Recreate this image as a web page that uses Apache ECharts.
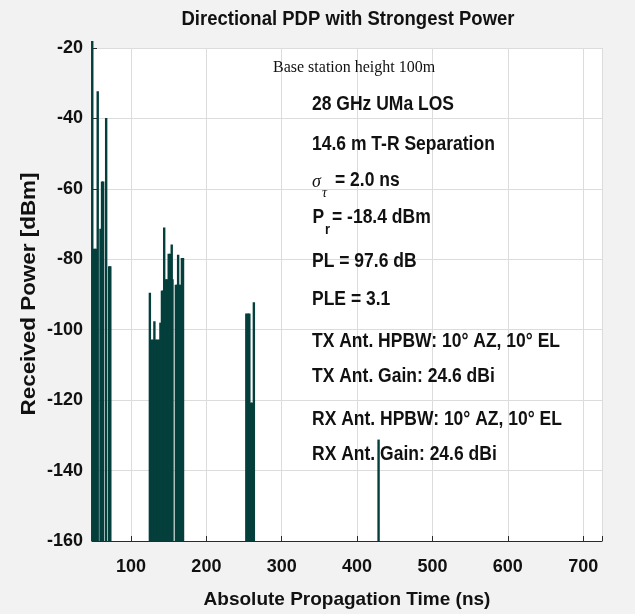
<!DOCTYPE html>
<html><head><meta charset="utf-8">
<script src="https://cdn.jsdelivr.net/npm/echarts@6/dist/echarts.min.js"></script>
<style>html,body{margin:0;padding:0;background:#f2f2f2}#c{width:635px;height:614px}</style>
</head><body><div id="c"></div>
<script>
// Multipath component delays (ns) and received powers (dBm)
const delays = [
  48.5, 50, 52, 54, 55.8, 59.5, 61.5, 63, 67, 71, 72.5,
  125, 127, 129, 131, 133, 135, 137, 139, 141, 142.5, 144, 146, 148, 150, 152, 154, 155,
  159.5, 161, 162.5, 164, 165.5, 167.5, 169,
  253, 255, 257, 259, 261, 263,
  428.5
];
const powers = [
  -18, -77, -77, -77, -32.3, -71.3, -57.9, -57.9, -39.9, -82, -82,
  -89.5, -102.8, -102.8, -97.6, -102.8, -102.8, -102.8, -98, -88.9, -88.9, -71, -85.7, -85.7, -78.4, -78.4, -75.8, -85.7,
  -87.2, -87.2, -78.7, -87.2, -87.2, -79.6, -79.6,
  -95.4, -95.4, -95.4, -120.7, -120.7, -92.2,
  -131.2
];
const titleText = 'Directional PDP with Strongest Power';
const xName = 'Absolute Propagation Time (ns)';
const yName = 'Received Power [dBm]';
const infoLines = [
  '28 GHz UMa LOS',
  '14.6 m T-R Separation',
  null,
  null,
  'PL = 97.6 dB',
  'PLE = 3.1',
  'TX Ant. HPBW: 10\u00b0 AZ, 10\u00b0 EL',
  'TX Ant. Gain: 24.6 dBi',
  'RX Ant. HPBW: 10\u00b0 AZ, 10\u00b0 EL',
  'RX Ant. Gain: 24.6 dBi'
];
const infoY = [105, 145, 181, 218, 262, 300, 342, 377, 420, 455];

const SANS = '"Liberation Sans", Arial, sans-serif';
const SERIF = '"Liberation Serif", "Times New Roman", serif';
const txt = (text, x, y, font, extra, align) => Object.assign({
  type: 'text', x: x, y: y, z: 100, scaleY: 1.12,
  style: { text: text, font: font, fill: '#111', align: align || 'left', verticalAlign: 'middle',
           textAlign: align || 'left', textVerticalAlign: 'middle' }
}, extra || {});
const BOLD = 'bold 17.5px ' + SANS;

const graphics = [
  txt(titleText, 348, 19, 'bold 18.5px ' + SANS, { scaleY: 1.1 }, 'center'),
  txt(yName, 30, 294, 'bold 19.5px ' + SANS, { rotation: Math.PI / 2, scaleX: 1.15, scaleY: 1 }, 'center'),
  txt('Base station height 100m', 273, 68, '16px ' + SERIF, { scaleY: 1.05 }),
  txt('\u03c3', 312, 182, 'italic 18px ' + SERIF, { scaleY: 1 }),
  txt('\u03c4', 322, 193, 'italic 14px ' + SERIF, { scaleY: 1 }),
  txt('= 2.0 ns', 335, 181, BOLD),
  txt('P', 312.5, 218, BOLD),
  txt('r', 325, 230, 'bold 13px ' + SANS),
  txt('= -18.4 dBm', 332, 218, BOLD)
];
infoLines.forEach((t, i) => { if (t) graphics.push(txt(t, 312, infoY[i], BOLD)); });

const chart = echarts.init(document.getElementById('c'), null, { renderer: 'canvas' });
chart.setOption({
  backgroundColor: '#f2f2f2',
  animation: false,
  grid: { left: 92, right: 33, top: 48, bottom: 72, show: true, backgroundColor: '#ffffff', borderWidth: 0 },
  xAxis: {
    type: 'value', min: 48.2, max: 725,
    name: xName, nameLocation: 'middle', nameGap: 49,
    nameTextStyle: { fontFamily: SANS, fontSize: 19, fontWeight: 'bold', color: '#111' },
    axisLine: { show: true, lineStyle: { color: '#2a2a2a', width: 1.2 } },
    axisTick: { show: true, inside: true, length: 5, lineStyle: { color: '#2a2a2a' } },
    axisLabel: {
      margin: 17, fontFamily: SANS, fontSize: 18, fontWeight: 'bold', color: '#111',
      formatter: v => (Math.abs(v % 100) < 1e-6 ? String(v) : '')
    },
    splitLine: { show: true, lineStyle: { color: '#dcdcdc', width: 1 } }
  },
  yAxis: {
    type: 'value', min: -160, max: -20, interval: 20, startValue: -160,
    axisLine: { show: true, onZero: false, lineStyle: { color: '#2a2a2a', width: 1.2 } },
    axisTick: { show: true, inside: true, length: 5, lineStyle: { color: '#2a2a2a' } },
    axisLabel: { margin: 9, fontFamily: SANS, fontSize: 18, fontWeight: 'bold', color: '#111' },
    splitLine: { show: true, lineStyle: { color: '#dcdcdc', width: 1 } }
  },
  series: [{
    type: 'bar',
    data: delays.map((d, i) => [d, powers[i]]),
    barWidth: 2.4,
    clip: false,
    itemStyle: { color: '#053f3c' },
    emphasis: { disabled: true },
    z: 5
  }],
  graphic: graphics
});
</script></body></html>
